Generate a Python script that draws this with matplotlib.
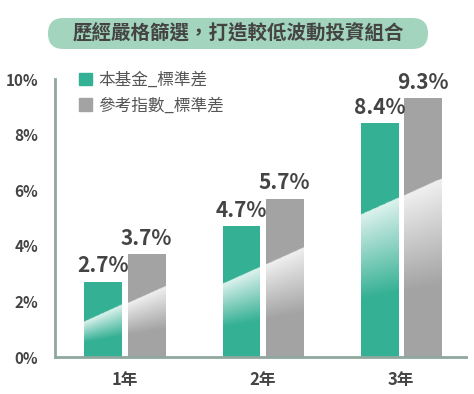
import numpy as np
import matplotlib
matplotlib.use("Agg")
import matplotlib.pyplot as plt
from matplotlib.patches import FancyBboxPatch, Patch

plt.rcParams['font.family'] = ['Noto Sans CJK TC', 'DejaVu Sans']

# data
periods = ['1年', '2年', '3年']
fund_std = [2.7, 4.7, 8.4]
index_std = [3.7, 5.7, 9.3]
series_names = ['本基金_標準差', '參考指數_標準差']
yticks = [0, 2, 4, 6, 8, 10]
title = '歷經嚴格篩選，打造較低波動投資組合'

GREEN = '#34b094'
GRAY = '#a3a3a3'
TXT = '#444444'
AXIS = '#8fa89d'

W, H = 474, 394
fig = plt.figure(figsize=(W / 100, H / 100), dpi=100)
ax = fig.add_axes([55 / W, 1 - 357 / H, 411 / W, 278 / H])

bw = 0.275
off = 0.156
x = np.arange(len(periods))
slope = 2.2      # diagonal of the light overlay, % per x unit
frac = 0.69      # overlay height at right edge relative to grey bar


def shade(ax, x0, h, line_r, xr):
    # white gradient below a diagonal line, fading towards the bottom
    nx, ny = 60, 300
    xs = np.linspace(x0, x0 + bw, nx)
    ys = np.linspace(0, h, ny)
    X, Y = np.meshgrid(xs, ys)
    yl = line_r - slope * (xr - X)
    depth = yl - Y
    L = 0.6 * yl
    a = np.where(depth >= 0, 0.84 * np.clip(1 - depth / L, 0, 1), 0)
    img = np.zeros((ny, nx, 4))
    img[..., :3] = 1.0
    img[..., 3] = a
    ax.imshow(img, extent=[x0, x0 + bw, 0, h], origin='lower',
              aspect='auto', interpolation='bilinear', zorder=3)


for i in range(len(periods)):
    xr = x[i] + off + bw / 2
    line_r = frac * index_std[i]
    for xc, v, c in [(x[i] - off, fund_std[i], GREEN), (x[i] + off, index_std[i], GRAY)]:
        ax.bar(xc, v, width=bw, color=c, zorder=2)
        shade(ax, xc - bw / 2, v, line_r, xr)
        ax.text(xc, v + 0.2, f'{v:.1f}%', ha='center', va='bottom',
                fontsize=15, fontweight='bold', color=TXT, zorder=4)

ax.set_xlim(-0.507, 2.47)
ax.set_ylim(0, 10)
ax.set_xticks(x)
ax.set_xticklabels(periods, fontsize=12, fontweight='bold', color=TXT)
ax.set_yticks(yticks)
ax.set_yticklabels([f'{t}%' for t in yticks], fontsize=11, fontweight='bold', color=TXT)
ax.tick_params(length=0, pad=12)
ax.tick_params(axis='x', pad=10)
for s in ['top', 'right']:
    ax.spines[s].set_visible(False)
for s in ['left', 'bottom']:
    ax.spines[s].set_color(AXIS)
    ax.spines[s].set_linewidth(2)

handles = [Patch(color=GREEN), Patch(color=GRAY)]
leg = ax.legend(handles, series_names, loc='upper left',
                bbox_to_anchor=(79 / W, 1 - 72 / H), bbox_transform=fig.transFigure,
                frameon=False, fontsize=12, handlelength=0.75, handleheight=0.75,
                handletextpad=0.4, labelspacing=0.5, borderpad=0, borderaxespad=0)
for t in leg.get_texts():
    t.set_color('#555555')

# title pill
ov = fig.add_axes([0, 0, 1, 1], zorder=-1)
ov.set_xlim(0, W)
ov.set_ylim(H, 0)
ov.axis('off')
ov.add_patch(FancyBboxPatch((48, 18), 380, 31, boxstyle='round,pad=0,rounding_size=15.5',
                            facecolor='#a3d4bd', edgecolor='none'))
ov.text(238, 33.5, title, ha='center', va='center', fontsize=14,
        fontweight='bold', color=TXT)

fig.savefig('out.png', dpi=100)
